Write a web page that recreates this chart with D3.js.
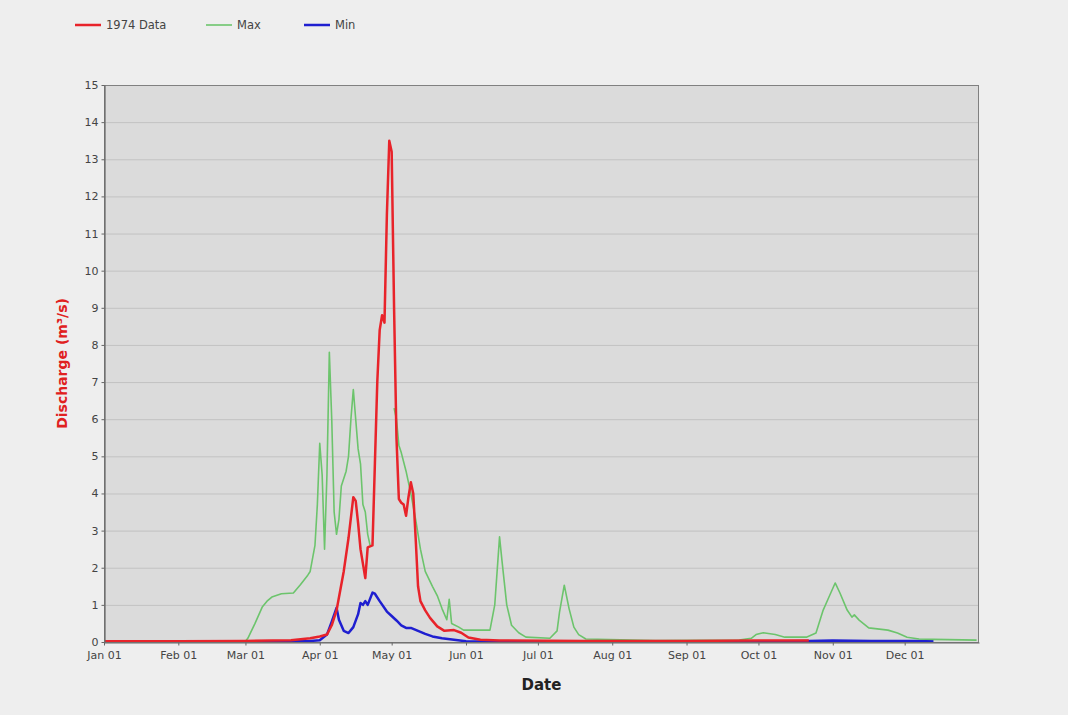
<!DOCTYPE html>
<html><head><meta charset="utf-8">
<script src="https://cdn.jsdelivr.net/npm/d3@7"></script>
<style>
html,body{margin:0;padding:0;background:#eeeeee;}
svg{display:block;}
text{font-family:"DejaVu Sans",Verdana,sans-serif;}
</style></head>
<body><svg id="chart" width="1068" height="715"></svg>
<script>
// ---- data ----
const seriesNames = ["1974 Data", "Max", "Min"];
const yTicks = [0,1,2,3,4,5,6,7,8,9,10,11,12,13,14,15];
const xTickLabels = ["Jan 01","Feb 01","Mar 01","Apr 01","May 01","Jun 01","Jul 01","Aug 01","Sep 01","Oct 01","Nov 01","Dec 01"];

const dataDates = ["1974-01-01","1974-02-01","1974-03-01","1974-03-20","1974-03-28","1974-04-01","1974-04-04","1974-04-06","1974-04-08","1974-04-11","1974-04-13","1974-04-15","1974-04-16","1974-04-17","1974-04-18","1974-04-20","1974-04-21","1974-04-23","1974-04-24","1974-04-25","1974-04-26","1974-04-27","1974-04-28","1974-04-29","1974-04-30","1974-05-01","1974-05-02","1974-05-03","1974-05-04","1974-05-05","1974-05-06","1974-05-07","1974-05-08","1974-05-09","1974-05-10","1974-05-11","1974-05-12","1974-05-13","1974-05-15","1974-05-17","1974-05-20","1974-05-23","1974-05-27","1974-05-30","1974-06-02","1974-06-07","1974-06-15","1974-07-20","1974-09-01","1974-10-01","1974-10-22"];
const dataValues = [0.02,0.02,0.03,0.05,0.1,0.15,0.2,0.45,0.85,1.9,2.8,3.9,3.8,3.2,2.5,1.72,2.55,2.6,4.8,7.0,8.4,8.8,8.6,11.5,13.5,13.2,9.0,5.5,3.85,3.75,3.7,3.4,3.9,4.3,4.0,2.8,1.5,1.1,0.85,0.65,0.42,0.3,0.32,0.25,0.12,0.06,0.04,0.03,0.03,0.04,0.04];

// null = no value recorded (line break)
const maxDates = ["1974-01-01","1974-03-01","1974-03-02","1974-03-05","1974-03-08","1974-03-10","1974-03-12","1974-03-16","1974-03-21","1974-03-24","1974-03-27","1974-03-28","1974-03-30","1974-03-31","1974-04-01","1974-04-02","1974-04-03","1974-04-04","1974-04-05","1974-04-06","1974-04-07","1974-04-08","1974-04-09","1974-04-10","1974-04-12","1974-04-13","1974-04-14","1974-04-15","1974-04-16","1974-04-17","1974-04-18","1974-04-19","1974-04-20","1974-04-21","1974-04-22","1974-04-23","1974-05-02","1974-05-03","1974-05-04","1974-05-05","1974-05-07","1974-05-09","1974-05-11","1974-05-13","1974-05-15","1974-05-18","1974-05-20","1974-05-22","1974-05-24","1974-05-25","1974-05-26","1974-05-29","1974-05-31","1974-06-11","1974-06-13","1974-06-15","1974-06-16","1974-06-18","1974-06-20","1974-06-23","1974-06-26","1974-07-06","1974-07-09","1974-07-10","1974-07-12","1974-07-14","1974-07-16","1974-07-18","1974-07-21","1974-08-19","1974-09-23","1974-09-28","1974-09-30","1974-10-03","1974-10-08","1974-10-12","1974-10-21","1974-10-25","1974-10-28","1974-10-30","1974-11-02","1974-11-04","1974-11-07","1974-11-09","1974-11-10","1974-11-12","1974-11-16","1974-11-24","1974-11-28","1974-12-02","1974-12-07","1974-12-13","1974-12-31"];
const maxValues = [0.01,0.02,0.1,0.5,0.94,1.1,1.21,1.3,1.32,1.55,1.8,1.9,2.6,3.7,5.35,4.5,2.5,4.5,7.8,6.0,3.5,2.9,3.3,4.2,4.6,5.0,6.0,6.8,6.0,5.2,4.8,3.7,3.5,2.9,2.6,null,6.3,6.0,5.3,5.1,4.6,4.0,3.3,2.5,1.9,1.5,1.25,0.9,0.6,1.15,0.5,0.4,0.32,0.32,1.0,2.83,2.2,1.0,0.45,0.25,0.13,0.1,0.3,0.8,1.53,0.9,0.4,0.2,0.08,0.04,0.05,0.1,0.2,0.25,0.2,0.13,0.13,0.24,0.86,1.15,1.59,1.32,0.86,0.67,0.73,0.59,0.38,0.32,0.24,0.13,0.08,0.07,0.05];

const minDates = ["1974-01-01","1974-03-27","1974-04-01","1974-04-04","1974-04-06","1974-04-08","1974-04-09","1974-04-11","1974-04-13","1974-04-15","1974-04-17","1974-04-18","1974-04-19","1974-04-20","1974-04-21","1974-04-23","1974-04-24","1974-04-26","1974-04-29","1974-05-01","1974-05-03","1974-05-05","1974-05-07","1974-05-09","1974-05-12","1974-05-15","1974-05-18","1974-05-22","1974-05-27","1974-06-01","1974-06-30","1974-10-01","1974-10-22","1974-11-01","1974-11-17","1974-12-13"];
const minValues = [0.01,0.02,0.05,0.2,0.55,0.92,0.6,0.3,0.24,0.4,0.75,1.05,1.0,1.1,1.0,1.33,1.3,1.1,0.82,0.7,0.58,0.45,0.38,0.38,0.3,0.22,0.15,0.1,0.06,0.02,0.01,0.01,0.03,0.04,0.03,0.03];

const colors = ["#e8232a", "#6cc46c", "#1f1fd0"];

// ---- layout ----
const W = 1068, H = 715;
const margin = {left:104, top:85, right:W-979, bottom:H-642};
const svg = d3.select("#chart");
const parse = d3.timeParse("%Y-%m-%d");
const FONT = '"DejaVu Sans",Verdana,sans-serif';

const x = d3.scaleTime()
  .domain([parse("1974-01-01"), parse("1975-01-01")])
  .range([margin.left, W - margin.right]);
const y = d3.scaleLinear().domain([0, 15]).range([H - margin.bottom, margin.top]);

// plot background
svg.append("rect").attr("x", margin.left).attr("y", margin.top)
  .attr("width", x.range()[1]-x.range()[0]).attr("height", y.range()[0]-y.range()[1])
  .attr("fill", "#dbdbdb");

// gridlines
svg.append("g").selectAll("line").data(yTicks.slice(1)).join("line")
  .attr("x1", x.range()[0]).attr("x2", x.range()[1])
  .attr("y1", d => y(d)+0.5).attr("y2", d => y(d)+0.5)
  .attr("stroke", "#c2c2c2").attr("stroke-width", 1);

// series
svg.append("clipPath").attr("id","clip").append("rect")
  .attr("x", margin.left).attr("y", margin.top-2)
  .attr("width", x.range()[1]-x.range()[0]).attr("height", y.range()[0]-y.range()[1]+2);

const line = d3.line().defined(d => d.value != null).x(d => x(d.date)).y(d => y(d.value));
const mk = (dates, vals) => dates.map((d,i) => ({date: parse(d), value: vals[i]}));
const series = [
  {data: mk(minDates, minValues), color: colors[2], w: 2.5},
  {data: mk(maxDates, maxValues), color: colors[1], w: 1.6},
  {data: mk(dataDates, dataValues), color: colors[0], w: 2.5}
];
const lg = svg.append("g").attr("clip-path","url(#clip)");
series.forEach(s => {
  lg.append("path").datum(s.data).attr("d", line)
    .attr("fill","none").attr("stroke", s.color).attr("stroke-width", s.w)
    .attr("stroke-linejoin","round");
});

// plot border
svg.append("rect").attr("x", margin.left+0.5).attr("y", margin.top+0.5)
  .attr("width", x.range()[1]-x.range()[0]-1).attr("height", y.range()[0]-y.range()[1])
  .attr("fill","none").attr("stroke","#808080").attr("stroke-width",1);

// axes
const xTickDates = d3.range(12).map(m => new Date(1974, m, 1));
const xAxis = d3.axisBottom(x).tickValues(xTickDates)
  .tickFormat((d,i) => xTickLabels[i]).tickSizeInner(3).tickSizeOuter(0).tickPadding(6);
const gx = svg.append("g").attr("transform", `translate(0,${y(0)+0.5})`).call(xAxis);
const yAxis = d3.axisLeft(y).tickValues(yTicks).tickFormat(d3.format("d"))
  .tickSizeInner(3).tickSizeOuter(0).tickPadding(3);
const gy = svg.append("g").attr("transform", `translate(${margin.left+0.5},0)`).call(yAxis);
[gx, gy].forEach(g => {
  g.select(".domain").attr("stroke","#666").attr("stroke-width",1.2);
  g.selectAll(".tick line").attr("stroke","#666");
  g.selectAll(".tick text").attr("fill","#444").style("font-size","11px").style("font-family", FONT);
});

// axis titles
svg.append("text").attr("transform", `translate(67,${(y(0)+y(15))/2}) rotate(-90)`)
  .attr("text-anchor","middle").attr("fill","#e02020")
  .style("font-weight","bold").style("font-size","14px").text("Discharge (m³/s)");
svg.append("text").attr("x", (x.range()[0]+x.range()[1])/2).attr("y", 690)
  .attr("text-anchor","middle").attr("fill","#222")
  .style("font-weight","bold").style("font-size","15px").text("Date");

// legend
const legendPos = [75, 206, 304];
const legendW = [2.5, 1.6, 2.5];
const leg = svg.append("g");
seriesNames.forEach((n,i) => {
  leg.append("line").attr("x1", legendPos[i]).attr("x2", legendPos[i]+26)
    .attr("y1", 25).attr("y2", 25).attr("stroke", colors[i]).attr("stroke-width", legendW[i]);
  leg.append("text").attr("x", legendPos[i]+31).attr("y", 29)
    .attr("fill","#444").style("font-size","11.5px").text(n);
});
</script>
</body></html>
